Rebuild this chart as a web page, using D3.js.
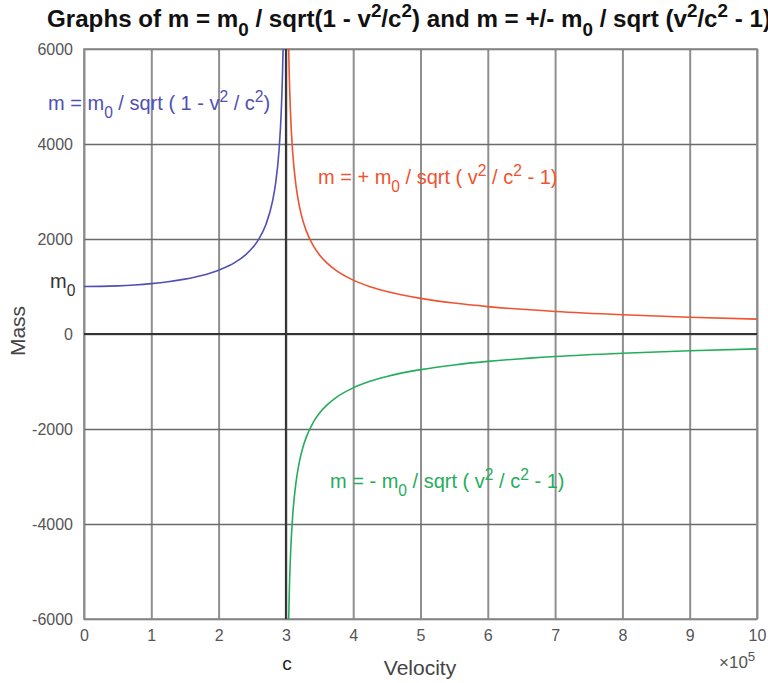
<!DOCTYPE html>
<html><head><meta charset="utf-8">
<script src="https://cdn.jsdelivr.net/npm/d3@7"></script>
<style>
body{margin:0;background:#fff;}
svg{display:block;font-family:"Liberation Sans",Arial,sans-serif;}
</style></head>
<body><svg id="c" width="768" height="683"></svg>
<script>
// Data (velocity in units of 1e5, mass)
const xTicks = [0,1,2,3,4,5,6,7,8,9,10];
const yTicks = [-6000,-4000,-2000,0,2000,4000,6000];
const blueV = [0,0.25,0.5,0.75,1,1.25,1.5,1.75,2,2.25,2.4,2.5,2.6,2.7,2.8,2.85,2.9,2.93,2.95,2.96];
const blueM = [1000,1003,1014,1033,1061,1100,1155,1231,1342,1512,1667,1809,2004,2294,2785,3203,3906,4656,5500,6143];
const orangeV = [3.04,3.05,3.07,3.1,3.15,3.2,3.25,3.3,3.4,3.5,3.6,3.75,4,4.25,4.5,5,5.5,6,7,8,9,10];
const orangeM = [6104,5455,4602,3841,3123,2694,2400,2182,1875,1664,1508,1333,1134,997,894,750,651,577,474,405,354,314];
const greenV = [3.04,3.05,3.07,3.1,3.15,3.2,3.25,3.3,3.4,3.5,3.6,3.75,4,4.25,4.5,5,5.5,6,7,8,9,10];
const greenM = [-6104,-5455,-4602,-3841,-3123,-2694,-2400,-2182,-1875,-1664,-1508,-1333,-1134,-997,-894,-750,-651,-577,-474,-405,-354,-314];
const cValue = 3;

const svg = d3.select("#c");
const L=84,R=757,T=49,B=619;
const x = d3.scaleLinear().domain([0,10]).range([L,R]);
const y = d3.scaleLinear().domain([-6000,6000]).range([B,T]);

const blue="#5050b4", orange="#f0532f", green="#25ad5c";
const fmt = d => String(d);

// grid
const gx = svg.append("g").attr("transform",`translate(0,${B})`)
  .call(d3.axisBottom(x).tickValues(xTicks).tickSize(-(B-T)).tickFormat(""));
gx.select(".domain").remove();
gx.selectAll("line").attr("stroke","#8f8f8f").attr("stroke-width",2);
const gy = svg.append("g").attr("transform",`translate(${L},0)`)
  .call(d3.axisLeft(y).tickValues(yTicks).tickSize(-(R-L)).tickFormat(""));
gy.select(".domain").remove();
gy.selectAll("line").attr("stroke","#6a6a6a").attr("stroke-width",1.6);

// frame
svg.append("rect").attr("x",L).attr("y",T).attr("width",R-L).attr("height",B-T)
  .attr("fill","none").attr("stroke","#8a8a8a").attr("stroke-width",1.6);

// axes at 0 and c
svg.append("line").attr("x1",L).attr("x2",R).attr("y1",y(0)).attr("y2",y(0))
  .attr("stroke","#333").attr("stroke-width",2);
svg.append("line").attr("x1",x(cValue)).attr("x2",x(cValue)).attr("y1",T).attr("y2",B)
  .attr("stroke","#333").attr("stroke-width",2);

// tick labels
const ax = svg.append("g").attr("transform",`translate(0,${B+8})`)
  .call(d3.axisBottom(x).tickValues(xTicks).tickSize(0).tickFormat(fmt));
ax.select(".domain").remove();
ax.selectAll("text").attr("font-size",16).attr("fill","#555").attr("font-family","Liberation Sans, Arial");
const ay = svg.append("g").attr("transform",`translate(${L-8},0)`)
  .call(d3.axisLeft(y).tickValues(yTicks).tickSize(0).tickFormat(fmt));
ay.select(".domain").remove();
ay.selectAll("text").attr("font-size",16).attr("fill","#555").attr("font-family","Liberation Sans, Arial");

// curves
svg.append("clipPath").attr("id","clip").append("rect").attr("x",L).attr("y",T).attr("width",R-L).attr("height",B-T);
const line = d3.line().x(d=>x(d[0])).y(d=>y(d[1])).curve(d3.curveMonotoneX);
const g = svg.append("g").attr("clip-path","url(#clip)");
g.append("path").attr("d",line(blueV.map((v,i)=>[v,blueM[i]]))).attr("fill","none").attr("stroke",blue).attr("stroke-width",1.6);
g.append("path").attr("d",line(orangeV.map((v,i)=>[v,orangeM[i]]))).attr("fill","none").attr("stroke",orange).attr("stroke-width",1.6);
g.append("path").attr("d",line(greenV.map((v,i)=>[v,greenM[i]]))).attr("fill","none").attr("stroke",green).attr("stroke-width",1.6);

function rich2(parent,px,py,list,opts){
  const t = parent.append("text").attr("x",px).attr("y",py)
    .attr("font-size",opts.size).attr("fill",opts.fill).attr("font-weight",opts.weight||"normal");
  let off=0;
  list.forEach(([s,m])=>{
    const target = m==="sub"? opts.size*0.4 : m==="sup"? -opts.size*0.42 : 0;
    const ts=t.append("tspan").text(s).attr("dy",target-off);
    if(m) ts.attr("font-size",opts.size*0.78);
    off=target;
  });
  if(opts.len) t.attr("textLength",opts.len).attr("lengthAdjust","spacingAndGlyphs");
  return t;
}

// title
rich2(svg,47,27,[["Graphs of m = m"],["0","sub"],[" / sqrt(1 - v"],["2","sup"],["/c"],["2","sup"],[") and m = +/- m"],["0","sub"],[" / sqrt (v"],["2","sup"],["/c"],["2","sup"],[" - 1)"]],
  {size:23,fill:"#111",weight:"bold",len:724});

// annotations
rich2(svg,48,110,[["m = m"],["0","sub"],[" / sqrt ( 1 - v"],["2","sup"],[" / c"],["2","sup"],[")"]],{size:20,fill:blue});
rich2(svg,318,184,[["m = + m"],["0","sub"],[" / sqrt ( v"],["2","sup"],[" / c"],["2","sup"],[" - 1)"]],{size:20,fill:orange});
rich2(svg,330,488,[["m = - m"],["0","sub"],[" / sqrt ( v"],["2","sup"],[" / c"],["2","sup"],[" - 1)"]],{size:20,fill:green});

// m0 label
rich2(svg,50,288,[["m"],["0","sub"]],{size:20,fill:"#333"});

// axis labels
svg.append("text").attr("x",287).attr("y",670).attr("text-anchor","middle").attr("font-size",19).attr("fill","#222").text("c");
svg.append("text").attr("x",420).attr("y",675).attr("text-anchor","middle").attr("font-size",21).attr("fill","#444").text("Velocity");
svg.append("text").attr("transform","translate(25,331) rotate(-90)").attr("text-anchor","middle").attr("font-size",21).attr("fill","#444").text("Mass");
rich2(svg,719,668,[["×10"],["5","sup"]],{size:17,fill:"#555"});
</script></body></html>
